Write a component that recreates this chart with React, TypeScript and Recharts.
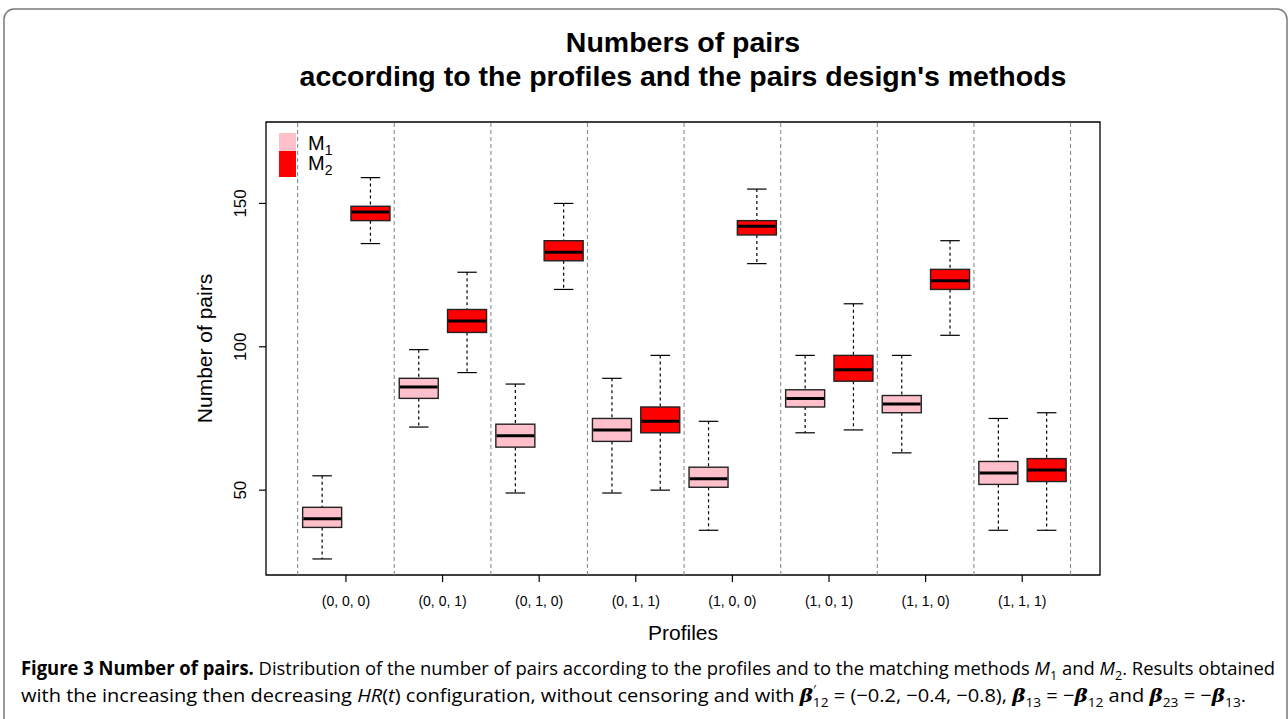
import { Bar, ComposedChart, Legend, ReferenceArea, ReferenceLine, XAxis, YAxis } from 'recharts'

const PROFILES = ['(0, 0, 0)', '(0, 0, 1)', '(0, 1, 0)', '(0, 1, 1)', '(1, 0, 0)', '(1, 0, 1)', '(1, 1, 0)', '(1, 1, 1)']
const METHODS = ['M1', 'M2']

const M1_MIN = [26, 72, 49, 49, 36, 70, 63, 36]
const M1_Q1 = [37, 82, 65, 67, 51, 79, 77, 52]
const M1_MEDIAN = [40, 86, 69, 71, 54, 82, 80, 56]
const M1_Q3 = [44, 89, 73, 75, 58, 85, 83, 60]
const M1_MAX = [55, 99, 87, 89, 74, 97, 97, 75]

const M2_MIN = [136, 91, 120, 50, 129, 71, 104, 36]
const M2_Q1 = [144, 105, 130, 70, 139, 88, 120, 53]
const M2_MEDIAN = [147, 109, 133, 74, 142, 92, 123, 57]
const M2_Q3 = [149, 113, 137, 79, 144, 97, 127, 61]
const M2_MAX = [159, 126, 150, 97, 155, 115, 137, 77]

const Y_TICKS = [50, 100, 150]

const METHOD_COLOR: Record<string, string> = { M1: '#FFC0CB', M2: '#FF0000' }
const FONT = '"Liberation Sans", Arial, Helvetica, sans-serif'
const CAPTION_FONT = '"Open Sans", "Noto Sans", sans-serif'

// box positions run 1..16 on the "grp" axis; group separators sit at 0.5, 2.5, ...
const X_MIN = -0.155
const X_MAX = 17.11
const Y_MIN = 20.4
const Y_MAX = 178.4

const rows = PROFILES.flatMap((profile, i) => [
  { key: `${profile} M1`, pos: 2 * i + 1, method: 'M1', min: M1_MIN[i], q1: M1_Q1[i], median: M1_MEDIAN[i], q3: M1_Q3[i], max: M1_MAX[i], range: [M1_MIN[i], M1_MAX[i]] },
  { key: `${profile} M2`, pos: 2 * i + 2, method: 'M2', min: M2_MIN[i], q1: M2_Q1[i], median: M2_MEDIAN[i], q3: M2_Q3[i], max: M2_MAX[i], range: [M2_MIN[i], M2_MAX[i]] },
])

const groupTicks = PROFILES.map((_, i) => 1.5 + 2 * i)
const separators = Array.from({ length: PROFILES.length + 1 }, (_, k) => 0.5 + 2 * k)

// The bar spans min..max through the y scale; inner stats are placed on that same linear span.
function BoxShape(props: any) {
  const { x, y, width, height, payload } = props
  const top = Math.min(y, y + height)
  const bottom = Math.max(y, y + height)
  const span = payload.max - payload.min
  const toPx = (v: number) => top + ((payload.max - v) / span) * (bottom - top)
  const cx = x + width / 2
  const cap = width / 4
  const q3 = toPx(payload.q3)
  const q1 = toPx(payload.q1)
  const med = toPx(payload.median)
  return (
    <g>
      <line x1={cx} x2={cx} y1={top} y2={q3} stroke="#000" strokeWidth={1.2} strokeDasharray="3 3" />
      <line x1={cx} x2={cx} y1={q1} y2={bottom} stroke="#000" strokeWidth={1.2} strokeDasharray="3 3" />
      <line x1={cx - cap} x2={cx + cap} y1={top} y2={top} stroke="#000" strokeWidth={1.2} />
      <line x1={cx - cap} x2={cx + cap} y1={bottom} y2={bottom} stroke="#000" strokeWidth={1.2} />
      <rect x={x} y={q3} width={width} height={q1 - q3} fill={METHOD_COLOR[payload.method]} stroke="#222" strokeWidth={1.4} />
      <line x1={x + 0.7} x2={x + width - 0.7} y1={med} y2={med} stroke="#000" strokeWidth={3} />
    </g>
  )
}

function YTick({ x, y, payload }: any) {
  return (
    <text x={x} y={y} transform={`rotate(-90 ${x} ${y})`} textAnchor="middle" fontSize={17} fontFamily={FONT} fill="#000">
      {payload.value}
    </text>
  )
}

function MethodLegend() {
  return (
    <svg width={90} height={46} style={{ display: 'block' }}>
      <rect x={0} y={0} width={17} height={26} fill={METHOD_COLOR.M1} />
      <rect x={0} y={18} width={17} height={26} fill={METHOD_COLOR.M2} />
      {METHODS.map((m, i) => (
        <text key={m} x={29} y={17 + 20 * i} fontSize={20} fontFamily={FONT} fill="#000">
          {m[0]}
          <tspan fontSize={14} dy={5}>{m.slice(1)}</tspan>
        </text>
      ))}
    </svg>
  )
}

const BETA = { fontWeight: 'bold', fontStyle: 'italic', fontFamily: '"DejaVu Serif", serif' } as const

export default function App() {
  return (
    <div style={{ position: 'absolute', left: 0, top: 0, width: 1288, height: 719, overflow: 'hidden', background: '#fff' }}>
      <svg width={1288} height={719} style={{ position: 'absolute', left: 0, top: 0 }}>
        <rect x={4} y={9} width={1283} height={760} rx={10} fill="none" stroke="#7a7a7a" strokeWidth={1.5} />
        <text x={683} y={52} textAnchor="middle" fontSize={28.5} fontWeight="bold" fontFamily={FONT}>Numbers of pairs</text>
        <text x={683} y={86} textAnchor="middle" fontSize={28.5} fontWeight="bold" fontFamily={FONT}>
          according to the profiles and the pairs design's methods
        </text>
        <text x={21} y={675} fontSize={19} fontFamily={CAPTION_FONT} textLength={1254} lengthAdjust="spacingAndGlyphs">
          <tspan fontWeight="bold">Figure 3 Number of pairs.</tspan>
          <tspan> Distribution of the number of pairs according to the profiles and to the matching methods </tspan>
          <tspan fontStyle="italic">M</tspan>
          <tspan fontSize={13} dy={5}>1</tspan>
          <tspan dy={-5}> and </tspan>
          <tspan fontStyle="italic">M</tspan>
          <tspan fontSize={13} dy={5}>2</tspan>
          <tspan dy={-5}>. Results obtained</tspan>
        </text>
        <text x={21} y={702} fontSize={19} fontFamily={CAPTION_FONT} textLength={1225} lengthAdjust="spacingAndGlyphs">
          <tspan>with the increasing then decreasing </tspan>
          <tspan fontStyle="italic">HR</tspan>
          <tspan>(</tspan>
          <tspan fontStyle="italic">t</tspan>
          <tspan>) configuration, without censoring and with </tspan>
          <tspan {...BETA}>β</tspan>
          <tspan fontSize={12} dy={-8}>′</tspan>
          <tspan fontSize={13} dx={-3} dy={13}>12</tspan>
          <tspan dy={-5}> = (−0.2, −0.4, −0.8), </tspan>
          <tspan {...BETA}>β</tspan>
          <tspan fontSize={13} dy={5}>13</tspan>
          <tspan dy={-5}> = −</tspan>
          <tspan {...BETA}>β</tspan>
          <tspan fontSize={13} dy={5}>12</tspan>
          <tspan dy={-5}> and </tspan>
          <tspan {...BETA}>β</tspan>
          <tspan fontSize={13} dy={5}>23</tspan>
          <tspan dy={-5}> = −</tspan>
          <tspan {...BETA}>β</tspan>
          <tspan fontSize={13} dy={5}>13</tspan>
          <tspan dy={-5}>.</tspan>
        </text>
      </svg>
      <div style={{ position: 'absolute', left: 0, top: 0 }}>
        <ComposedChart width={1288} height={719} data={rows} margin={{ top: 122, right: 188, left: 206, bottom: 114 }}>
          <XAxis xAxisId="box" dataKey="key" type="category" hide orientation="top" height={0} padding={{ left: 31.65, right: 29.55 }} />
          <XAxis
            xAxisId="grp"
            dataKey="pos"
            type="number"
            domain={[X_MIN, X_MAX]}
            allowDataOverflow
            ticks={groupTicks}
            tickFormatter={(v: number) => PROFILES[Math.round((v - 1.5) / 2)]}
            height={30}
            tickSize={7}
            tickMargin={14}
            axisLine={false}
            tickLine={{ stroke: '#000', strokeWidth: 1.2 }}
            tick={{ fill: '#000', fontSize: 14, fontFamily: FONT }}
            interval={0}
            label={{
              content: ({ viewBox }: any) => (
                <text x={viewBox.x + viewBox.width / 2} y={640} textAnchor="middle" fontSize={21} fontFamily={FONT} fill="#000">
                  Profiles
                </text>
              ),
            }}
          />
          <YAxis
            type="number"
            domain={[Y_MIN, Y_MAX]}
            allowDataOverflow
            ticks={Y_TICKS}
            width={60}
            tickSize={7}
            tickMargin={13}
            axisLine={false}
            tickLine={{ stroke: '#000', strokeWidth: 1.2 }}
            tick={<YTick />}
            label={{
              content: ({ viewBox }: any) => {
                const cy = viewBox.y + viewBox.height / 2
                return (
                  <text x={212} y={cy} transform={`rotate(-90 212 ${cy})`} textAnchor="middle" fontSize={21} fontFamily={FONT} fill="#000">
                    Number of pairs
                  </text>
                )
              },
            }}
          />
          {separators.map((s) => (
            <ReferenceLine key={s} xAxisId="grp" x={s} stroke="#8c8c8c" strokeWidth={1.1} strokeDasharray="4 3" />
          ))}
          <ReferenceArea
            xAxisId="grp"
            x1={X_MIN}
            x2={X_MAX}
            y1={Y_MIN}
            y2={Y_MAX}
            fill="none"
            fillOpacity={0}
            stroke="#000"
            strokeWidth={1.3}
          />
          <Bar xAxisId="box" dataKey="range" barSize={39} shape={<BoxShape />} isAnimationActive={false} />
          <Legend
            layout="horizontal"
            verticalAlign="middle"
            align="center"
            content={() => <MethodLegend />}
            wrapperStyle={{ left: 279, top: 133, width: 90 }}
          />
        </ComposedChart>
      </div>
    </div>
  )
}
